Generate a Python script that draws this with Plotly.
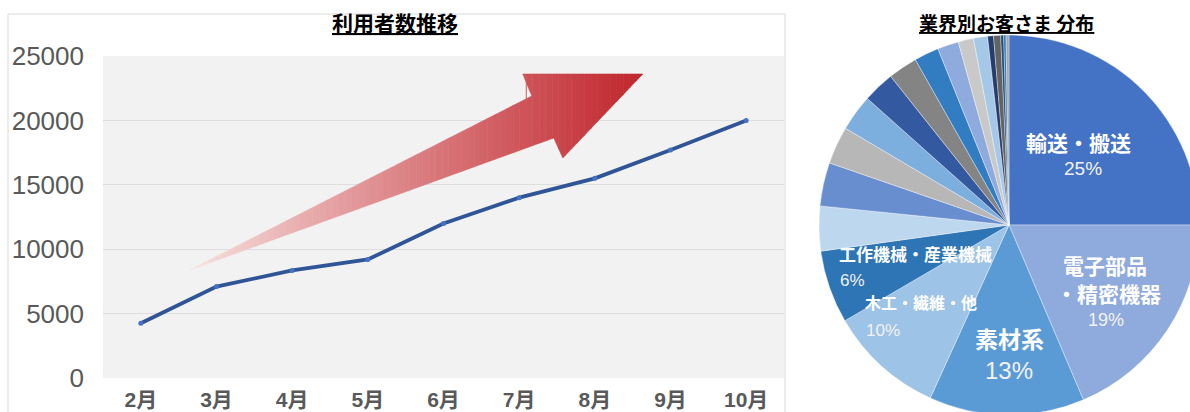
import plotly.graph_objects as go

# ---------------- data ----------------
months = ["2月", "3月", "4月", "5月", "6月", "7月", "8月", "9月", "10月"]
users = [4250, 7100, 8350, 9200, 12000, 14000, 15500, 17700, 20000]
y_ticks = [0, 5000, 10000, 15000, 20000, 25000]

industries = ["輸送・搬送", "電子部品・精密機器", "素材系", "木工・繊維・他", "工作機械・産業機械",
              "その他1", "その他2", "その他3", "その他4", "その他5", "その他6", "その他7",
              "その他8", "その他9", "その他10", "その他11", "その他12", "その他13", "その他14", "その他15"]
shares = [25.0, 18.6, 13.2, 9.8, 6.2,
          3.8, 3.7, 3.2, 3.1, 2.7, 2.5, 2.1, 1.8, 1.3, 1.2, 0.5, 0.6, 0.25, 0.2, 0.25]

# ---------------- style ----------------
slice_colors = ["#4472c4", "#8faadc", "#5b9bd5", "#9dc3e6", "#2e75b6",
                "#bdd7ee", "#698ed0", "#b7b7b7", "#7cafdd", "#335aa1", "#848484", "#327dc2",
                "#8faadc", "#c9c9c9", "#a5c8e8", "#253c6e", "#636363", "#1f4e79", "#2e75b6", "#a6a6a6"]

W, H = 1200, 420
def fx(x):
    return x / W
def fy(y):
    return 1 - y / H

JP = "Noto Sans CJK JP"
NUM = "Liberation Sans, Noto Sans CJK JP"

fig = go.Figure()

# line chart
fig.add_trace(go.Scatter(
    x=list(range(len(months))), y=users, mode="lines+markers",
    line=dict(color="#2f5597", width=3.8),
    marker=dict(color="#4472c4", size=5),
    showlegend=False, hoverinfo="x+y",
))

# pie chart
fig.add_trace(go.Pie(
    labels=industries, values=shares, sort=False, direction="clockwise", rotation=0,
    marker=dict(colors=slice_colors, line=dict(color="rgba(255,255,255,0.6)", width=0.6)),
    textinfo="none", showlegend=False,
    domain=dict(x=[fx(819), fx(1199)], y=[fy(415), fy(35)]),
))

# ---------------- decorative gradient arrow (axis coords) ----------------
arrow = [(0.648, 8385), (5.167, 21894), (5.048, 23602), (6.634, 23602),
         (5.577, 17081), (5.457, 18634)]

def clip_x(poly, a, b):
    def clip(pts, keep, inter):
        out = []
        n = len(pts)
        for i in range(n):
            cur, prev = pts[i], pts[i - 1]
            if keep(cur):
                if not keep(prev):
                    out.append(inter(prev, cur))
                out.append(cur)
            elif keep(prev):
                out.append(inter(prev, cur))
        return out
    def at(xv):
        def f(p, q):
            t = (xv - p[0]) / (q[0] - p[0])
            return (xv, p[1] + t * (q[1] - p[1]))
        return f
    pts = clip(poly, lambda p: p[0] >= a, at(a))
    if not pts:
        return pts
    pts = clip(pts, lambda p: p[0] <= b, at(b))
    return pts

shapes = []
xmin = min(p[0] for p in arrow)
xmax = max(p[0] for p in arrow)
N = 70
c0 = (249, 228, 228)
c1 = (192, 38, 44)
for i in range(N):
    a = xmin + (xmax - xmin) * i / N
    b = xmin + (xmax - xmin) * (i + 1) / N
    pts = clip_x(arrow, a, b)
    if len(pts) < 3:
        continue
    t = (i + 0.5) / N
    t2 = t ** 0.9
    col = "rgb(%d,%d,%d)" % tuple(round(c0[k] + (c1[k] - c0[k]) * t2) for k in range(3))
    path = "M " + " L ".join("%.4f,%.2f" % p for p in pts) + " Z"
    shapes.append(dict(type="path", path=path, xref="x", yref="y",
                       fillcolor=col, line=dict(color=col, width=0.6), layer="above"))

# border of the left chart
shapes.append(dict(type="rect", xref="paper", yref="paper",
                   x0=fx(8), x1=fx(785), y0=-0.1, y1=fy(14),
                   line=dict(color="#d9d9d9", width=1), fillcolor="rgba(0,0,0,0)", layer="below"))

# ---------------- annotations ----------------
ann = []
ann.append(dict(text="<b><u>利用者数推移</u></b>", x=fx(395), y=fy(22), xref="paper", yref="paper",
                showarrow=False, yanchor="middle", xanchor="center",
                font=dict(family=JP, size=21, color="#000000")))
ann.append(dict(text="<b><u>業界別お客さま 分布</u></b>", x=fx(1006), y=fy(22), xref="paper", yref="paper",
                showarrow=False, yanchor="middle", xanchor="center",
                font=dict(family=JP, size=19, color="#000000")))

total = sum(shares)
pct = [f"{v / total:.0%}" for v in shares]

def lab(text, x, y, size, bold=True, xanchor="center", family=JP, color="#ffffff"):
    t = f"<b>{text}</b>" if bold else text
    ann.append(dict(text=t, x=fx(x), y=fy(y), xref="paper", yref="paper", showarrow=False,
                    xanchor=xanchor, yanchor="middle", font=dict(family=family, size=size, color=color)))

lab(industries[0], 1078, 142, 21)
lab(pct[0], 1083, 168, 19, bold=False, family=NUM, color="#f2f2f2")
lab("電子部品", 1105, 265, 21)
lab("・精密機器", 1108, 293, 21)
lab(pct[1], 1106, 320, 18, bold=False, family=NUM, color="#f2f2f2")
lab(industries[2], 1009, 338, 23)
lab(pct[2], 1009, 370, 24, bold=False, family=NUM, color="#f2f2f2")
lab(industries[3], 863, 302, 16, xanchor="left")
lab(pct[3], 864, 330, 17, bold=False, family=NUM, xanchor="left", color="#f2f2f2")
lab(industries[4], 837, 253, 17, xanchor="left")
lab(pct[4], 838, 280, 17, bold=False, family=NUM, xanchor="left", color="#f2f2f2")

fig.update_layout(
    width=W, height=H, autosize=False,
    margin=dict(l=0, r=0, t=0, b=0, pad=0, autoexpand=False),
    paper_bgcolor="#ffffff", plot_bgcolor="#f2f2f2",
    showlegend=False,
    shapes=shapes, annotations=ann,
    xaxis=dict(domain=[fx(103), fx(784)], range=[-0.5, len(months) - 0.5],
               tickmode="array", tickvals=list(range(len(months))), ticktext=months,
               showgrid=False, zeroline=False, showline=False, ticks="", automargin=False,
               tickfont=dict(family=NUM, size=21, color="#595959", weight="bold"),
               ticklabelstandoff=7, fixedrange=True),
    yaxis=dict(domain=[fy(378), fy(56)], range=[0, 25000],
               tickmode="array", tickvals=y_ticks, tickformat="d",
               showgrid=True, gridcolor="#dedede", gridwidth=1, zeroline=False, showline=False, ticks="",
               automargin=False,
               tickfont=dict(family=NUM, size=26, color="#595959"),
               ticklabelstandoff=18, fixedrange=True),
)

fig.write_html("out.html", config={"displayModeBar": False}, post_script=(
    "document.body.style.margin='0';document.body.style.overflow='hidden';"
    "document.documentElement.style.overflow='hidden';"))
